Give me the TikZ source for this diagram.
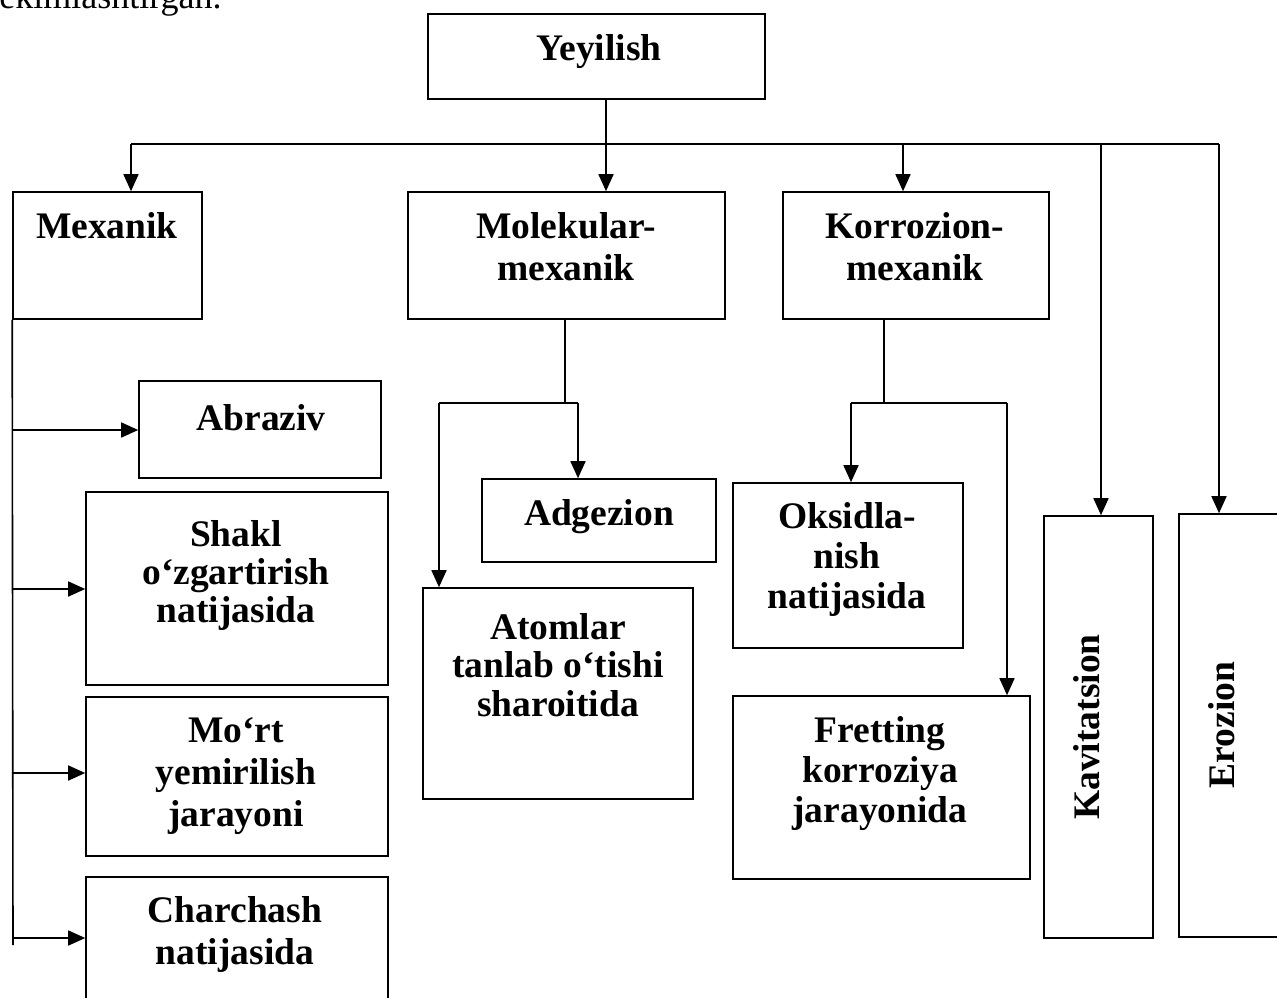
\documentclass[tikz,border=0pt]{standalone}
\usepackage{fontspec}
\setmainfont{Liberation Serif}
\usetikzlibrary{arrows.meta,calc,fit}
\newcommand\firstln{\rule{0pt}{14pt}}
\begin{document}
\begin{tikzpicture}[x=0.5pt,y=-0.5pt,
  box/.style={draw, line width=0.8pt, inner sep=0pt, rectangle},
  txt/.style={font=\bfseries\fontsize{18.75}{19}\selectfont, align=center, anchor=north, inner sep=0pt},
  vtxt/.style={font=\bfseries\fontsize{18.75}{19}\selectfont, rotate=90, inner sep=0pt},
  ln/.style={line width=0.8pt},
  arr/.style={ln, -{Triangle[length=8.5pt,width=7.5pt]}}]
\useasboundingbox (0,0) rectangle (1277,997);
\clip (0,0) rectangle (1277,997);

% cut-off line of text at the top
\node[font=\fontsize{18}{19}\selectfont, anchor=base east, inner sep=0pt] (cut) at (222,8) {ekimlashtirgan.};

% boxes
\node[box, fit={(428,14) (765,99)}] (yey) {};
\node[box, fit={(13,192) (202,319)}] (mex) {};
\node[box, fit={(408,192) (725,319)}] (mol) {};
\node[box, fit={(783,192) (1049,319)}] (kor) {};
\node[box, fit={(1044,516) (1153,938)}] (kav) {};
\node[box, fit={(1179,514) (1320,937)}] (ero) {};
\node[box, fit={(139,381) (381,478)}] (abr) {};
\node[box, fit={(86,492) (388,685)}] (sha) {};
\node[box, fit={(86,697) (388,856)}] (mor) {};
\node[box, fit={(86,877) (388,1030)}] (cha) {};
\node[box, fit={(482,479) (716,562)}] (adg) {};
\node[box, fit={(423,588) (693,799)}] (ato) {};
\node[box, fit={(733,483) (963,648)}] (oks) {};
\node[box, fit={(733,696) (1030,879)}] (fre) {};

% texts
\node[txt] (yeyt) at (599,32) {\firstln Yeyilish};
\node[txt] (mext) at (107,210) {\firstln Mexanik};
\node[txt, font=\bfseries\fontsize{18.75}{21}\selectfont] (molt) at (566,210) {\firstln Molekular-\\mexanik};
\node[txt, font=\bfseries\fontsize{18.75}{21}\selectfont] (kort) at (915,210) {\firstln Korrozion-\\mexanik};
\node[txt] (abrt) at (261,402) {\firstln Abraziv};
\node[txt, font=\bfseries\fontsize{18.75}{19}\selectfont] (shat) at (236,518) {\firstln Shakl\\o‘zgartirish\\natijasida};
\node[txt, font=\bfseries\fontsize{18.75}{21}\selectfont] (mort) at (236,714) {\firstln Mo‘rt\\yemirilish\\jarayoni};
\node[txt, font=\bfseries\fontsize{18.75}{21}\selectfont] (chat) at (235,894) {\firstln Charchash\\natijasida};
\node[txt] (adgt) at (599,497) {\firstln Adgezion};
\node[txt, font=\bfseries\fontsize{18.75}{19.25}\selectfont] (atot) at (558,611) {\firstln Atomlar\\tanlab o‘tishi\\sharoitida};
\node[txt, font=\bfseries\fontsize{18.75}{20}\selectfont] (okst) at (847,500) {\firstln Oksidla-\\nish\\natijasida};
\node[txt, font=\bfseries\fontsize{18.75}{20}\selectfont] (fret) at (880,714) {\firstln Fretting\\korroziya\\jarayonida};
\node[vtxt] (kavt) at (1087,727) {Kavitatsion};
\node[vtxt] (erot) at (1222,725) {Erozion};

% top distribution
\coordinate (ys) at (606,144);
\coordinate (busL) at (131,144);
\coordinate (busR) at (1219,144);
\coordinate (bk) at (903,144);
\coordinate (bv) at (1101,144);
\draw[ln] (ys |- yey.south) -- (ys);
\draw[ln] (busL) -- (busR);
\draw[arr] (busL) -- (busL |- mex.north);
\draw[arr] (ys) -- (ys |- mol.north);
\draw[arr] (bk) -- (bk |- kor.north);
\draw[arr] (bv) -- (bv |- kav.north);
\draw[arr] (busR) -- (busR |- ero.north);

% mechanical branch
\coordinate (lend) at (13,945);
\coordinate (la) at (13,430);
\coordinate (lb) at (13,589);
\coordinate (lc) at (13,773);
\coordinate (ld) at (13,938);
\draw[ln] (mex.south west) -- (lend);
\draw[arr] (la) -- (la -| abr.west);
\draw[arr] (lb) -- (lb -| sha.west);
\draw[arr] (lc) -- (lc -| mor.west);
\draw[arr] (ld) -- (ld -| cha.west);

% molecular-mechanical branch
\coordinate (ms) at (565,403);
\coordinate (mL) at (439,403);
\coordinate (mR) at (578,403);
\draw[ln] (ms |- mol.south) -- (ms);
\draw[ln] (mL) -- (mR);
\draw[arr] (mL) -- (mL |- ato.north);
\draw[arr] (mR) -- (mR |- adg.north);

% corrosion-mechanical branch
\coordinate (ks) at (884,403);
\coordinate (kL) at (851,403);
\coordinate (kR) at (1007,403);
\draw[ln] (ks |- kor.south) -- (ks);
\draw[ln] (kL) -- (kR);
\draw[arr] (kL) -- (kL |- oks.north);
\draw[arr] (kR) -- (kR |- fre.north);
\end{tikzpicture}
\end{document}
